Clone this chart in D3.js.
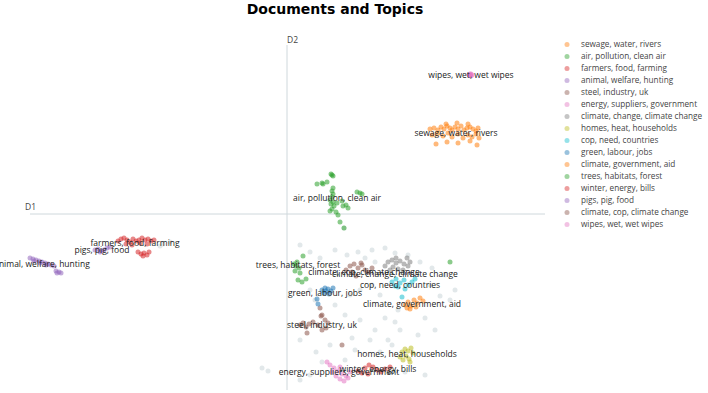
<!DOCTYPE html>
<html>
<head>
<meta charset="utf-8">
<script src="https://cdn.jsdelivr.net/npm/d3@7"></script>
<style>
  body { margin: 0; background: #fff; }
  svg { display: block; font-family: "Open Sans", "DejaVu Sans", sans-serif; }
</style>
</head>
<body>
<div id="chart"></div>
<script>
////////////////////////////////////////////////////////////////////
////////////////////////////  Data  ////////////////////////////////
const topicNames = [
  "sewage, water, rivers",
  "air, pollution, clean air",
  "farmers, food, farming",
  "animal, welfare, hunting",
  "steel, industry, uk",
  "energy, suppliers, government",
  "climate, change, climate change",
  "homes, heat, households",
  "cop, need, countries",
  "green, labour, jobs",
  "climate, government, aid",
  "trees, habitats, forest",
  "winter, energy, bills",
  "pigs, pig, food",
  "climate, cop, climate change",
  "wipes, wet, wet wipes"
];

// reduced embeddings (D1, D2), one list per topic
const topicPoints = [
  [[14.3,8.5],[14.7,8.6],[15.1,8.4],[15.4,8.7],[15.7,8.5],[16.0,8.8],[16.3,8.6],[16.5,8.4],[16.8,8.7],[17.1,8.5],[17.4,8.8],[17.7,8.4],[18.0,8.6],[18.3,8.7],[18.6,8.5],[18.9,8.3],[19.1,8.6],
   [14.5,7.9],[15.0,8.0],[15.6,7.8],[16.1,8.1],[16.5,7.7],[17.1,8.0],[17.6,7.6],[18.1,7.9],[18.5,7.7],[18.9,8.0],[19.2,7.6],
   [14.9,7.0],[16.0,7.2],[17.1,7.1],[18.3,7.3],[19.0,6.9],[15.9,9.0],[17.0,9.1],[18.1,9.0]],
  [[4.5,3.9],[4.4,4.0],[4.6,3.8],[3.0,3.0],[3.5,3.1],[4.0,3.2],[3.6,3.0],[4.6,2.6],[4.5,2.3],[4.6,2.0],[4.5,1.7],[4.3,1.4],[4.6,1.2],[4.4,1.0],[4.7,0.8],[4.5,0.5],[4.3,0.3],
   [5.0,1.1],[5.5,1.3],[5.9,0.9],[6.1,0.6],[5.6,0.8],[7.0,2.2],[7.3,2.1],[7.5,2.0],[5.1,-0.1],[5.3,-0.8],[5.7,-1.4],[4.9,0.2]],
  [[-16.9,-2.7],[-16.6,-2.5],[-16.3,-2.4],[-16.0,-2.6],[-15.7,-2.8],[-15.4,-2.5],[-15.1,-2.7],[-14.8,-2.6],[-14.5,-2.4],[-14.2,-2.6],[-13.9,-2.5],[-13.6,-2.7],[-13.3,-2.6],
   [-16.1,-3.0],[-15.5,-3.1],[-14.7,-2.9],[-14.0,-3.0],[-14.9,-3.8],[-14.6,-4.0],[-14.3,-3.9],[-14.0,-4.1],[-14.4,-4.2],[-13.8,-3.8]],
  [[-25.7,-4.4],[-25.4,-4.5],[-25.1,-4.6],[-24.8,-4.7],[-24.5,-4.8],[-24.2,-4.9],[-23.9,-5.0],[-23.6,-5.1],[-25.3,-4.7],[-24.7,-4.9],[-24.1,-5.1],[-23.3,-5.2],[-23.1,-5.7],[-22.8,-5.8],[-22.6,-5.9],[-23.0,-5.9]],
  [[1.3,-11.1],[1.6,-10.9],[1.9,-11.3],[2.2,-11.0],[2.0,-11.9],[3.8,-10.6],[4.1,-10.9],[3.9,-11.4],[3.5,-11.6],[3.1,-11.1],[5.5,-13.1],[3.4,-10.2],[2.6,-10.8],[3.3,-9.4],[3.5,-10.1]],
  [[4.3,-15.1],[4.7,-15.4],[5.1,-15.7],[5.5,-16.0],[5.9,-16.2],[4.9,-16.2],[5.3,-16.5],[5.7,-16.7],[6.1,-16.4],[4.5,-15.8],[6.3,-15.8],[4.0,-14.8],[5.3,-15.3]],
  [[10.1,-4.8],[10.5,-4.6],[10.9,-4.9],[11.3,-4.7],[11.7,-5.0],[12.1,-5.2],[10.6,-5.3],[11.1,-5.5],[11.6,-5.6],[10.3,-5.6],[12.3,-4.8],[9.8,-5.2],[10.9,-4.4],[12.0,-4.4]],
  [[11.5,-13.8],[11.8,-13.5],[12.1,-13.7],[12.4,-13.4],[12.6,-13.9],[11.9,-14.2],[12.2,-14.5],[11.6,-14.6],[12.3,-14.8],[11.3,-14.3]],
  [[10.5,-6.8],[10.9,-6.5],[11.3,-6.9],[11.7,-6.6],[12.1,-7.1],[12.5,-6.8],[11.1,-7.3],[11.8,-7.5],[11.5,-8.3],[10.8,-7.2],[12.8,-6.5]],
  [[3.5,-7.6],[3.8,-7.4],[4.1,-7.5],[4.4,-7.7],[3.7,-7.9],[4.2,-8.0],[3.9,-7.7],[3.0,-8.5],[3.1,-9.0],[4.6,-7.4]],
  [[11.8,-9.1],[12.1,-8.8],[12.4,-9.2],[12.7,-8.6],[13.0,-8.9],[13.3,-8.4],[13.6,-8.7],[12.3,-9.5],[12.0,-9.4],[12.9,-9.3]],
  [[1.6,-4.2],[1.0,-4.8],[0.9,-5.2],[1.2,-5.4],[0.8,-5.7],[1.3,-5.9],[1.1,-6.6],[1.5,-6.8],[1.9,-6.5],[0.7,-5.0],[16.3,-4.8]],
  [[7.8,-15.4],[8.2,-15.1],[8.6,-15.3],[9.0,-15.6],[9.4,-15.8],[7.5,-15.9],[8.1,-16.0],[9.8,-15.5],[10.3,-15.3],[7.1,-15.7]],
  [[-19.2,-3.6],[-18.9,-3.5],[-18.6,-3.7],[-18.3,-3.6],[-18.0,-3.4],[-17.7,-3.3],[-18.7,-3.8]],
  [[6.3,-5.2],[6.7,-5.0],[7.1,-5.4],[7.5,-5.1],[6.5,-5.8],[6.9,-6.2],[7.4,-4.9],[5.9,-5.6],[7.8,-5.6],[8.5,-5.4],[8.1,-5.8]],
  [[18.2,13.9],[18.3,14.0],[18.4,13.8],[18.3,13.9],[18.5,13.9],[18.4,14.0]]
];

// topic label anchors (D1, D2)
const labelX = [16.9, 5.0, -15.2, -24.5, 3.5, 5.2, 10.8, 12.0, 11.3, 3.8, 12.5, 1.1, 9.1, -18.5, 7.7, 18.4];
const labelY = [8.1, 1.6, -2.9, -5.0, -11.1, -15.8, -6.0, -14.0, -7.1, -7.9, -9.0, -5.1, -15.5, -3.6, -5.8, 13.9];

// documents without a topic
const outliers = [
  [2.3,-3.8],[3.3,-4.4],[4.8,-3.6],[6.0,-4.1],[7.1,-3.8],[8.5,-3.6],[9.8,-3.4],[10.8,-3.9],[12.1,-4.1],[13.3,-4.8],
  [14.5,-5.4],[15.8,-6.1],[16.8,-7.6],[16.3,-8.6],[15.3,-8.2],[14.3,-7.1],[2.8,-8.6],[4.8,-9.1],[6.3,-8.1],[7.3,-7.6],
  [8.5,-7.1],[9.3,-8.1],[5.8,-10.1],[7.3,-10.6],[8.8,-11.6],[9.8,-10.4],[10.8,-10.8],[11.3,-11.6],[8.3,-12.6],[6.8,-13.6],
  [5.8,-14.6],[10.1,-12.6],[10.5,-13.1],[9.3,-13.8],[3.5,-14.8],[2.3,-16.1],[1.3,-16.6],[-2.5,-15.4],[-1.9,-15.7],[6.5,-12.4],
  [4.3,-13.1],[13.1,-12.1],[14.8,-11.6],[13.8,-10.4],[11.1,-9.6],[-12.7,-3.2],[-12.4,-3.0],[-11.7,-2.8],[1.3,-12.6],[2.9,-13.8],
  [11.8,-15.8],[13.8,-16.1],[2.3,-7.6],[7.8,-4.4],[8.8,-4.8],[1.3,-3.1],[5.7,-1.4]
];

const xDomain = [-25.7, 25.8];
const yDomain = [-17.6, 16.9];

////////////////////////////////////////////////////////////////////
////////////////////////////  Init  ///////////////////////////////
const width = 708;
const height = 393;

const svg = d3.select("#chart").append("svg")
  .attr("width", width)
  .attr("height", height);

const xScale = d3.scaleLinear().domain(xDomain).range([30, 545]);
const yScale = d3.scaleLinear().domain(yDomain).range([390, 45]);

const color = (i) => d3.schemeCategory10[(i + 1) % 10];

// title
svg.append("text")
  .attr("x", 335)
  .attr("y", 14)
  .attr("text-anchor", "middle")
  .style("font-family", "'DejaVu Sans', sans-serif")
  .style("font-weight", "bold")
  .style("font-size", "14px")
  .style("fill", "#000")
  .text("Documents and Topics");

// center lines
svg.append("line")
  .attr("x1", xScale(xDomain[0])).attr("x2", xScale(xDomain[1]))
  .attr("y1", yScale(0)).attr("y2", yScale(0))
  .attr("stroke", "#CFD8DC").attr("stroke-width", 1);

svg.append("line")
  .attr("x1", xScale(0)).attr("x2", xScale(0))
  .attr("y1", yScale(yDomain[0])).attr("y2", yScale(yDomain[1]))
  .attr("stroke", "#CFD8DC").attr("stroke-width", 1);

svg.append("text")
  .attr("x", xScale(xDomain[0]) - 5)
  .attr("y", yScale(0) - 4)
  .style("font-size", "8.5px").style("fill", "#444")
  .text("D1");

svg.append("text")
  .attr("x", xScale(0))
  .attr("y", yScale(yDomain[1]) - 2)
  .style("font-size", "8.5px").style("fill", "#444")
  .text("D2");

// outliers
svg.append("g")
  .selectAll("circle")
  .data(outliers)
  .join("circle")
  .attr("cx", (d) => xScale(d[0]))
  .attr("cy", (d) => yScale(d[1]))
  .attr("r", 2.5)
  .attr("fill", "#CFD8DC")
  .attr("opacity", 0.6);

// topic points
topicPoints.forEach((pts, i) => {
  svg.append("g")
    .selectAll("circle")
    .data(pts)
    .join("circle")
    .attr("cx", (d) => xScale(d[0]))
    .attr("cy", (d) => yScale(d[1]))
    .attr("r", 2.5)
    .attr("fill", color(i))
    .attr("opacity", 0.55);
});

// topic labels
svg.append("g")
  .selectAll("text")
  .data(topicNames)
  .join("text")
  .attr("x", (d, i) => xScale(labelX[i]))
  .attr("y", (d, i) => yScale(labelY[i]))
  .attr("dy", "0.35em")
  .attr("text-anchor", "middle")
  .style("font-size", "8.5px")
  .style("fill", "#222")
  .text((d) => d);

// legend
const legend = svg.append("g").attr("transform", "translate(567, 44.5)");

legend.selectAll("circle")
  .data(topicNames)
  .join("circle")
  .attr("cx", 0)
  .attr("cy", (d, i) => i * 12)
  .attr("r", 2.5)
  .attr("fill", (d, i) => color(i))
  .attr("opacity", 0.45);

legend.selectAll("text")
  .data(topicNames)
  .join("text")
  .attr("x", 14)
  .attr("y", (d, i) => i * 12)
  .attr("dy", "0.35em")
  .style("font-size", "8.2px")
  .style("fill", "#444")
  .text((d) => d);
</script>
</body>
</html>
